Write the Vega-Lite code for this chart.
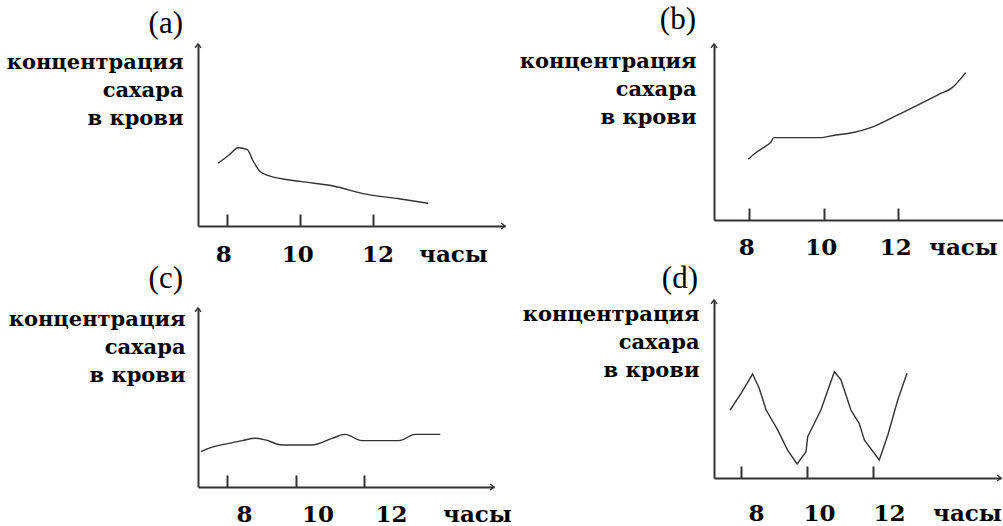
{
  "$schema": "https://vega.github.io/schema/vega-lite/v6.json",
  "background": "white",
  "padding": {"left": 6, "top": 4, "right": 0, "bottom": 0},
  "columns": 2,
  "bounds": "flush",
  "align": "all",
  "spacing": {"row": 69, "column": 209},
  "config": {
    "view": {"stroke": null},
    "font": "DejaVu Serif",
    "axis": {
      "grid": false,
      "domainColor": "#333333",
      "domainWidth": 2,
      "tickColor": "#333333",
      "tickWidth": 2,
      "labelFont": "DejaVu Serif",
      "labelFontSize": 23,
      "labelFontWeight": "bold",
      "labelColor": "black",
      "titleFont": "DejaVu Serif",
      "titleFontSize": 23,
      "titleFontWeight": "bold",
      "titleColor": "black"
    },
    "title": {
      "font": "Liberation Serif",
      "fontSize": 31,
      "fontWeight": "normal",
      "anchor": "start",
      "frame": "group",
      "color": "black"
    }
  },
  "datasets": {
    "a": [
      {"hour": 7.75, "level": 3.45}, {"hour": 8.05, "level": 3.9}, {"hour": 8.3, "level": 4.3},
      {"hour": 8.55, "level": 4.2}, {"hour": 8.7, "level": 3.6}, {"hour": 8.9, "level": 3.0},
      {"hour": 9.15, "level": 2.75}, {"hour": 10.0, "level": 2.45}, {"hour": 10.9, "level": 2.2},
      {"hour": 11.8, "level": 1.75}, {"hour": 12.7, "level": 1.5}, {"hour": 13.5, "level": 1.25}
    ],
    "b": [
      {"hour": 7.97, "level": 3.45}, {"hour": 8.17, "level": 3.82}, {"hour": 8.44, "level": 4.2},
      {"hour": 8.57, "level": 4.4}, {"hour": 8.66, "level": 4.68}, {"hour": 9.87, "level": 4.68},
      {"hour": 10.32, "level": 4.83}, {"hour": 10.76, "level": 4.96}, {"hour": 11.3, "level": 5.28},
      {"hour": 11.93, "level": 5.91}, {"hour": 12.56, "level": 6.57}, {"hour": 13.09, "level": 7.14},
      {"hour": 13.45, "level": 7.52}, {"hour": 13.81, "level": 8.37}
    ],
    "c": [
      {"hour": 7.24, "level": 1.97}, {"hour": 7.46, "level": 2.16}, {"hour": 8.05, "level": 2.44},
      {"hour": 8.44, "level": 2.59}, {"hour": 8.82, "level": 2.72}, {"hour": 9.12, "level": 2.63},
      {"hour": 9.6, "level": 2.35}, {"hour": 10.48, "level": 2.35}, {"hour": 11.07, "level": 2.72},
      {"hour": 11.45, "level": 2.94}, {"hour": 11.94, "level": 2.59}, {"hour": 13.02, "level": 2.59},
      {"hour": 13.5, "level": 2.94}, {"hour": 14.23, "level": 2.94}
    ],
    "d": [
      {"hour": 7.67, "level": 3.82}, {"hour": 8.0, "level": 4.76}, {"hour": 8.35, "level": 5.84},
      {"hour": 8.55, "level": 5.04}, {"hour": 8.76, "level": 3.82}, {"hour": 9.11, "level": 2.7},
      {"hour": 9.41, "level": 1.57}, {"hour": 9.7, "level": 0.79}, {"hour": 9.97, "level": 1.48},
      {"hour": 10.02, "level": 2.32}, {"hour": 10.42, "level": 3.82}, {"hour": 10.83, "level": 5.97},
      {"hour": 11.03, "level": 5.51}, {"hour": 11.33, "level": 3.82}, {"hour": 11.58, "level": 3.07},
      {"hour": 11.74, "level": 2.13}, {"hour": 12.19, "level": 1.01}, {"hour": 12.45, "level": 2.42},
      {"hour": 12.75, "level": 4.38}, {"hour": 13.03, "level": 5.88}
    ],
    "a_arrows": [{"hour": 7.2, "level": 10, "dir": "up"}, {"hour": 15.6, "level": 0, "dir": "right"}],
    "b_arrows": [{"hour": 7.05, "level": 10, "dir": "up"}, {"hour": 15.0, "level": 0, "dir": "right"}],
    "c_arrows": [{"hour": 7.15, "level": 10, "dir": "up"}, {"hour": 15.8, "level": 0, "dir": "right"}],
    "d_arrows": [{"hour": 7.18, "level": 10, "dir": "up"}, {"hour": 15.88, "level": 0, "dir": "right"}]
  },
  "concat": [
    {
      "width": 307,
      "height": 182,
      "title": {"text": "(a)", "dx": -15, "offset": 1, "align": "right"},
      "layer": [
        {
          "data": {"name": "a"},
          "mark": {"type": "line", "color": "#333333", "strokeWidth": 1.4, "interpolate": "monotone"},
          "encoding": {
            "x": {
              "field": "hour", "type": "quantitative",
              "scale": {"domain": [7.2, 15.6], "nice": false, "zero": false},
              "axis": {
                "values": [8, 10, 12], "tickSize": -12, "labelBaseline": "middle", "labelPadding": 40,
                "labelOffset": {"condition": [{"test": "datum.value == 8", "value": -4}, {"test": "datum.value == 12", "value": 4}], "value": -3},
                "title": "часы", "titleX": 255, "titleY": 28, "titleBaseline": "middle", "titleAlign": "center"
              }
            },
            "y": {
              "field": "level", "type": "quantitative",
              "scale": {"domain": [0, 10], "nice": false},
              "axis": {
                "ticks": false, "labels": false, "titleFontSize": 21,
                "title": ["концентрация", "сахара", "в крови"],
                "titleAngle": 0, "titleAlign": "right", "titleBaseline": "alphabetic",
                "titleX": -15, "titleY": 24, "titleLineHeight": 28
              }
            }
          }
        },
        {
          "data": {"name": "a_arrows"},
          "mark": {"type": "point", "filled": false, "stroke": "#333333", "strokeWidth": 1.5, "size": 36, "opacity": 1},
          "encoding": {
            "x": {"field": "hour", "type": "quantitative"},
            "y": {"field": "level", "type": "quantitative"},
            "shape": {"field": "dir", "type": "nominal", "legend": null,
              "scale": {"domain": ["up", "right"], "range": ["M-1,1.3L0,0L1,1.3", "M-1.3,-1L0,0L-1.3,1"]}}
          }
        }
      ]
    },
    {
      "width": 296,
      "height": 176,
      "title": {"text": "(b)", "dx": -18, "offset": 5, "align": "right"},
      "layer": [
        {
          "data": {"name": "b"},
          "mark": {"type": "line", "color": "#333333", "strokeWidth": 1.4, "interpolate": "monotone"},
          "encoding": {
            "x": {
              "field": "hour", "type": "quantitative",
              "scale": {"domain": [7.05, 15], "nice": false, "zero": false},
              "axis": {
                "values": [8, 10, 12], "tickSize": -12, "labelBaseline": "middle", "labelPadding": 39,
                "labelOffset": -3,
                "title": "часы", "titleX": 249, "titleY": 27, "titleBaseline": "middle", "titleAlign": "center"
              }
            },
            "y": {
              "field": "level", "type": "quantitative",
              "scale": {"domain": [0, 10], "nice": false},
              "axis": {
                "ticks": false, "labels": false, "titleFontSize": 21,
                "title": ["концентрация", "сахара", "в крови"],
                "titleAngle": 0, "titleAlign": "right", "titleBaseline": "alphabetic",
                "titleX": -18, "titleY": 23, "titleLineHeight": 28
              }
            }
          }
        },
        {
          "data": {"name": "b_arrows"},
          "mark": {"type": "point", "filled": false, "stroke": "#333333", "strokeWidth": 1.5, "size": 36, "opacity": 1},
          "encoding": {
            "x": {"field": "hour", "type": "quantitative"},
            "y": {"field": "level", "type": "quantitative"},
            "shape": {"field": "dir", "type": "nominal", "legend": null,
              "scale": {"domain": ["up", "right"], "range": ["M-1,1.3L0,0L1,1.3", "M-1.3,-1L0,0L-1.3,1"]}}
          }
        }
      ]
    },
    {
      "width": 296,
      "height": 187,
      "title": {"text": "(c)", "dx": -15, "offset": 5, "align": "right"},
      "layer": [
        {
          "data": {"name": "c"},
          "mark": {"type": "line", "color": "#333333", "strokeWidth": 1.4, "interpolate": "monotone"},
          "encoding": {
            "x": {
              "field": "hour", "type": "quantitative",
              "scale": {"domain": [7.15, 15.8], "nice": false, "zero": false},
              "axis": {
                "values": [8, 10, 12], "tickSize": -12, "labelBaseline": "middle", "labelPadding": 39,
                "labelOffset": {"condition": [{"test": "datum.value == 8", "value": 17}, {"test": "datum.value == 12", "value": 27}], "value": 22},
                "title": "часы", "titleX": 279, "titleY": 27, "titleBaseline": "middle", "titleAlign": "center"
              }
            },
            "y": {
              "field": "level", "type": "quantitative",
              "scale": {"domain": [0, 10], "nice": false, "range": [187, 8]},
              "axis": {
                "ticks": false, "labels": false, "titleFontSize": 21,
                "title": ["концентрация", "сахара", "в крови"],
                "titleAngle": 0, "titleAlign": "right", "titleBaseline": "alphabetic",
                "titleX": -13, "titleY": 25, "titleLineHeight": 28
              }
            }
          }
        },
        {
          "data": {"name": "c_arrows"},
          "mark": {"type": "point", "filled": false, "stroke": "#333333", "strokeWidth": 1.5, "size": 36, "opacity": 1},
          "encoding": {
            "x": {"field": "hour", "type": "quantitative"},
            "y": {"field": "level", "type": "quantitative"},
            "shape": {"field": "dir", "type": "nominal", "legend": null,
              "scale": {"domain": ["up", "right"], "range": ["M-1,1.3L0,0L1,1.3", "M-1.3,-1L0,0L-1.3,1"]}}
          }
        }
      ]
    },
    {
      "width": 287,
      "height": 178,
      "title": {"text": "(d)", "dx": -16, "offset": 2, "align": "right"},
      "layer": [
        {
          "data": {"name": "d"},
          "mark": {"type": "line", "color": "#333333", "strokeWidth": 1.4},
          "encoding": {
            "x": {
              "field": "hour", "type": "quantitative",
              "scale": {"domain": [7.18, 15.88], "nice": false, "zero": false},
              "axis": {
                "values": [8, 10, 12], "tickSize": -12, "labelBaseline": "middle", "labelPadding": 47,
                "labelOffset": {"condition": [{"test": "datum.value == 8", "value": 15}, {"test": "datum.value == 10", "value": 12}], "value": 16},
                "title": "часы", "titleX": 253, "titleY": 35, "titleBaseline": "middle", "titleAlign": "center"
              }
            },
            "y": {
              "field": "level", "type": "quantitative",
              "scale": {"domain": [0, 10], "nice": false},
              "axis": {
                "ticks": false, "labels": false, "titleFontSize": 21,
                "title": ["концентрация", "сахара", "в крови"],
                "titleAngle": 0, "titleAlign": "right", "titleBaseline": "alphabetic",
                "titleX": -15, "titleY": 20, "titleLineHeight": 28
              }
            }
          }
        },
        {
          "data": {"name": "d_arrows"},
          "mark": {"type": "point", "filled": false, "stroke": "#333333", "strokeWidth": 1.5, "size": 36, "opacity": 1},
          "encoding": {
            "x": {"field": "hour", "type": "quantitative"},
            "y": {"field": "level", "type": "quantitative"},
            "shape": {"field": "dir", "type": "nominal", "legend": null,
              "scale": {"domain": ["up", "right"], "range": ["M-1,1.3L0,0L1,1.3", "M-1.3,-1L0,0L-1.3,1"]}}
          }
        }
      ]
    }
  ]
}
